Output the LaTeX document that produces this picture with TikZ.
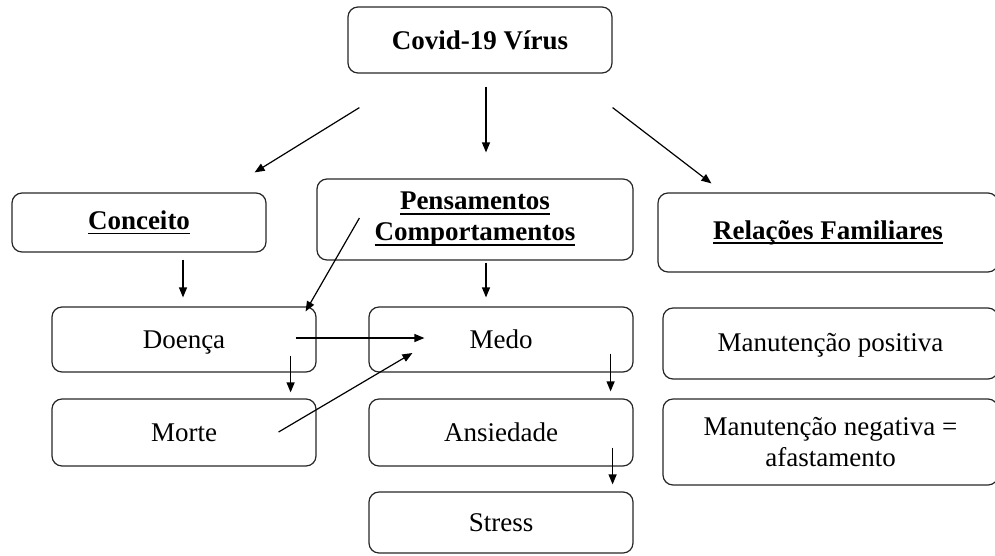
\documentclass[tikz,border=0pt]{standalone}
\usepackage{fontspec}
\setmainfont{Liberation Serif}
\usepackage{tikz}
\usetikzlibrary{positioning, arrows.meta, calc}

% underlined header text
\newcommand{\hdl}[1]{\setbox0\hbox{#1}\rlap{\rule[-5pt]{\wd0}{1.8pt}}\box0}

\begin{document}
\begin{tikzpicture}[
                x=1pt, y=-1pt,
                box/.style={rectangle, draw=black!85, rounded corners=10pt, line width=1.2pt, inner sep=0pt, align=center, font=\fontsize{27}{31}\selectfont},
                head/.style={box, font=\fontsize{27}{31}\selectfont\bfseries},
                arr/.style={-{Triangle[length=10pt, width=8pt]}, line width=1.2pt}
            ]
                \useasboundingbox (0,0) rectangle (995,555);

                % Top
                \node[head, minimum width=264pt, minimum height=66pt] (covid) at (480,40) {Covid-19 Vírus};

                % Headers
                \node[head, minimum width=254pt, minimum height=59pt] (conceito) at (139,222.5) {\hdl{Conceito}};
                \node[head, minimum width=316pt, minimum height=81pt] (pens) at (475,219.5) {\hdl{Pensamentos}\\ \hdl{Comportamentos}};
                \node[head, minimum width=340pt, minimum height=79pt] (rel) at (828,232.5) {\hdl{Relações Familiares}};

                % Left column
                \node[box, minimum width=264pt, minimum height=65pt, text depth=0pt] (doenca) at (184,339.5) {Doença};
                \node[box, minimum width=264pt, minimum height=67pt] (morte) at (184,432.5) {Morte};

                % Middle column
                \node[box, minimum width=264pt, minimum height=65pt] (medo) at (501,339.5) {Medo};
                \node[box, minimum width=264pt, minimum height=67pt] (ansiedade) at (501,432.5) {Ansiedade};
                \node[box, minimum width=264pt, minimum height=61pt] (stress) at (501,522.5) {Stress};

                % Right column
                \node[box, minimum width=335pt, minimum height=71pt, text depth=2pt] (pos) at (830.5,343.5) {Manutenção positiva};
                \node[box, minimum width=335pt, minimum height=86pt] (neg) at (830.5,442) {Manutenção negativa =\\ afastamento};

                % Arrows from the top
                \draw[arr] ($(covid.south west)+(12,34)$) -- ($(conceito.north east)+(-12,-20)$);
                \draw[arr] ($(covid.south)+(6,13)$) -- ($(pens.north)+(11,-26)$);
                \draw[arr] ($(covid.south east)+(0,34)$) -- ($(rel.north west)+(54,-9)$);

                % Arrows below the headers
                \draw[arr] ($(conceito.south)+(44,7)$) -- ($(doenca.north)+(-1,-9)$);
                \draw[arr] ($(pens.west)+(43,-1.5)$) -- ($(doenca.north east)+(-11,5)$);
                \draw[arr] ($(pens.south)+(11,2)$) -- ($(medo.north)+(-15,-9)$);

                % Arrows between boxes
                \draw[arr] ($(doenca.east)+(-21,-1.5)$) -- ($(medo.west)+(56,-1.5)$);
                \draw[arr] ($(doenca.south east)+(-26,-17)$) -- ($(morte.north east)+(-26,-6)$);
                \draw[arr] ($(morte.east)+(-38,-0.5)$) -- ($(medo.west)+(44,13.5)$);
                \draw[arr] ($(medo.south east)+(-23,-19)$) -- ($(ansiedade.north east)+(-23,-7)$);
                \draw[arr] ($(ansiedade.south east)+(-21,-19)$) -- ($(stress.north east)+(-21,-7)$);

            \end{tikzpicture}
\end{document}
